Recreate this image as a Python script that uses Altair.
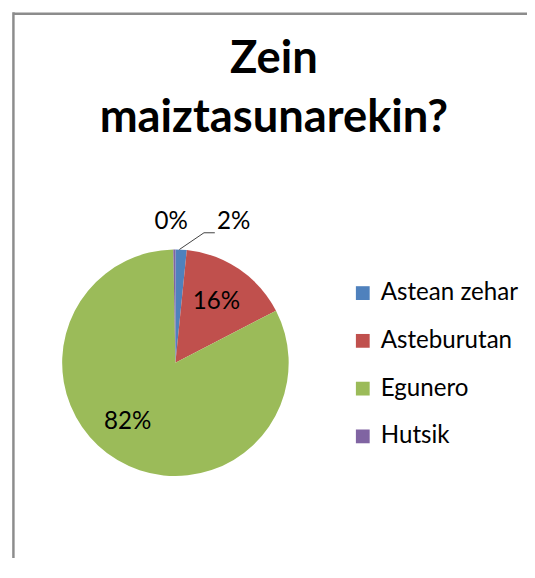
import altair as alt
import pandas as pd

categories = ["Astean zehar", "Asteburutan", "Egunero", "Hutsik"]
values = [1.6, 15.8, 82.3, 0.3]
colors = ["#4F81BD", "#C0504D", "#9BBB59", "#8064A2"]
title_lines = ["Zein", "maiztasunarekin?"]

df = pd.DataFrame({"cat": categories, "value": values})

CX, CY, R = 170, 356, 115
FONT = "Lato"

base = alt.Chart(df)

pie = base.mark_arc(outerRadius=R, stroke=None).encode(
    theta=alt.Theta("value:Q", stack=True),
    color=alt.Color(
        "cat:N",
        scale=alt.Scale(domain=categories, range=colors),
        legend=alt.Legend(
            title=None,
            orient="none",
            legendX=348,
            legendY=273,
            symbolType="square",
            symbolSize=196,
            symbolStrokeWidth=0,
            labelFont=FONT,
            labelFontSize=24.5,
            labelColor="#000000",
            labelOffset=6,
            rowPadding=23.5,
            padding=0,
            labelLimit=300,
        ),
    ),
    order=alt.Order("cat:N", sort="ascending"),
    x=alt.value(CX),
    y=alt.value(CY),
)

labelled = base.transform_window(
    cum="sum(value)", sort=[alt.SortField("cat", order="ascending")]
).transform_calculate(
    mid="datum.cum - datum.value / 2",
    label="round(datum.value) + '%'",
)


def label_layer(cat, radius, dx=0, dy=0):
    return labelled.transform_filter(alt.datum.cat == cat).mark_text(
        radius=radius, dx=dx, dy=dy, font=FONT, fontSize=24.5,
        align="center", baseline="middle", color="#000000",
    ).encode(
        theta=alt.Theta("mid:Q", scale=alt.Scale(domain=[0, 100])),
        text="label:N",
        x=alt.value(CX),
        y=alt.value(CY),
    )


labels = [
    label_layer("Asteburutan", 74),
    label_layer("Egunero", 77, dx=-9, dy=-6),
    label_layer("Astean zehar", 142, dx=52, dy=-1),
    label_layer("Hutsik", 143, dx=-3),
]

one = alt.Chart(pd.DataFrame({"k": [0]}))

leader1 = one.mark_rule(color="#404040", strokeWidth=1).encode(
    x=alt.value(174), y=alt.value(241), x2=alt.value(199), y2=alt.value(224)
)
leader2 = one.mark_rule(color="#404040", strokeWidth=1).encode(
    x=alt.value(199), y=alt.value(224), x2=alt.value(210), y2=alt.value(224)
)

border_left = one.mark_rule(color="#8c8c8c", strokeWidth=2.5).encode(
    x=alt.value(5.5), y=alt.value(0), y2=alt.value(560)
)
border_top = one.mark_rule(color="#8c8c8c", strokeWidth=2.5).encode(
    x=alt.value(5.5), x2=alt.value(545), y=alt.value(1.5)
)

title = one.mark_text(
    font=FONT, fontSize=46, fontWeight="bold", align="center",
    baseline="alphabetic", lineHeight=60, color="#000000",
).encode(x=alt.value(270), y=alt.value(62), text=alt.value(title_lines))

chart = alt.layer(
    border_left, border_top, pie, *labels, leader1, leader2, title
).properties(
    width=527, height=550, padding=0, autosize=alt.AutoSizeParams(type="none")
).configure_view(stroke=None)

chart.save("out.html", embed_options={"renderer": "svg", "actions": False})
